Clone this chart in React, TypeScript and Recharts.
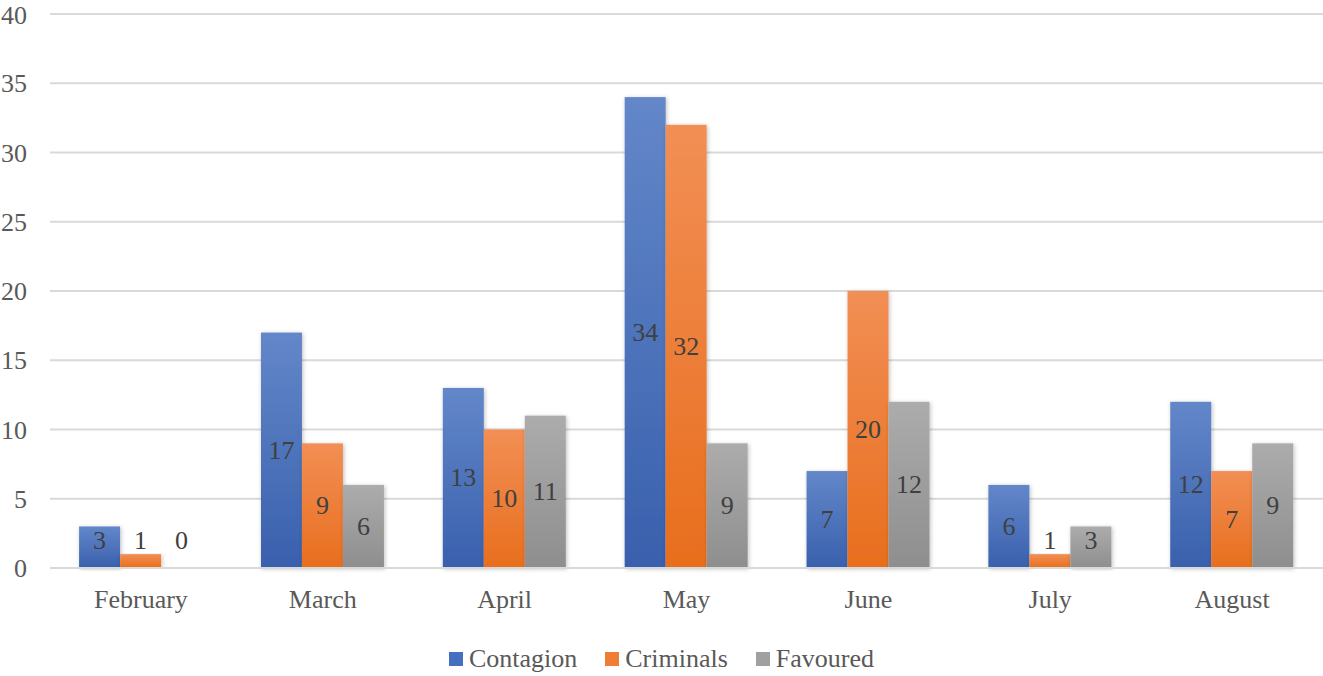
import { BarChart, Bar, XAxis, YAxis, CartesianGrid, Legend } from "recharts";

const months = ["February", "March", "April", "May", "June", "July", "August"];
const contagion = [3, 17, 13, 34, 7, 6, 12];
const criminals = [1, 9, 10, 32, 20, 1, 7];
const favoured = [0, 6, 11, 9, 12, 3, 9];
const yTicks = [0, 5, 10, 15, 20, 25, 30, 35, 40];

const data = months.map((m, i) => ({
  month: m,
  Contagion: contagion[i],
  Criminals: criminals[i],
  Favoured: favoured[i],
}));

const series = [
  { key: "Contagion", top: "#6387c9", bottom: "#3960ad", legend: "#4470bf" },
  { key: "Criminals", top: "#f28f55", bottom: "#e86e1d", legend: "#ee7d35" },
  { key: "Favoured", top: "#acacac", bottom: "#8e8e8e", legend: "#a0a0a0" },
];

const font = "Liberation Serif";
const fs = 26;

// bar plus a label in its middle (Excel "center"), kept clear of the axis
function BarWithLabel(props: any) {
  const { x, y, width, height, fill, value } = props;
  const v = Array.isArray(value) ? value[1] - value[0] : value;
  const zero = y + height;
  const cy = Math.min(y + height / 2, zero - 28);
  return (
    <g>
      {height > 0 && (
        <rect x={x} y={y} width={width} height={height} fill={fill} filter="url(#shadow)" />
      )}
      <text
        x={x + width / 2}
        y={cy}
        textAnchor="middle"
        dominantBaseline="central"
        fill="#404040"
        fontSize={fs}
        style={{ fontFamily: font }}
      >
        {v}
      </text>
    </g>
  );
}

function LegendBox() {
  return (
    <div
      style={{
        height: 50,
        display: "flex",
        justifyContent: "center",
        alignItems: "flex-start",
        paddingTop: 19,
        boxSizing: "border-box",
        fontFamily: font,
        fontSize: fs,
        color: "#595959",
        lineHeight: "28px",
      }}
    >
      {series.map((s) => (
        <div key={s.key} style={{ display: "flex", alignItems: "center", margin: "0 14px" }}>
          <span style={{ width: 14, height: 14, background: s.legend, display: "inline-block", marginRight: 6 }} />
          <span>{s.key}</span>
        </div>
      ))}
    </div>
  );
}

export default function App() {
  return (
    <div style={{ position: "absolute", left: 0, top: 0, background: "#fff", fontFamily: font }}>
      <BarChart
        width={1323}
        height={676}
        data={data}
        margin={{ top: 14, right: 0, bottom: 0, left: 0 }}
        barCategoryGap="16%"
        barGap={0}
        style={{ fontFamily: font }}
      >
        <defs>
          {series.map((s) => (
            <linearGradient key={s.key} id={`g-${s.key}`} x1="0" y1="0" x2="0" y2="1">
              <stop offset="0%" stopColor={s.top} />
              <stop offset="100%" stopColor={s.bottom} />
            </linearGradient>
          ))}
          <filter id="shadow" x="-20%" y="-5%" width="140%" height="110%">
            <feDropShadow dx="1" dy="1" stdDeviation="2" floodColor="#000" floodOpacity="0.25" />
          </filter>
        </defs>
        <CartesianGrid vertical={false} stroke="#d9d9d9" strokeWidth={2} />
        <XAxis
          dataKey="month"
          height={58}
          tickSize={0}
          tickMargin={22}
          axisLine={{ stroke: "#d9d9d9", strokeWidth: 2 }}
          tickLine={false}
          tick={{ fill: "#595959", fontSize: fs, fontFamily: font }}
        />
        <YAxis
          domain={[0, 40]}
          ticks={yTicks}
          width={50}
          tickSize={0}
          tickMargin={23}
          axisLine={false}
          tickLine={false}
          tick={{ fill: "#595959", fontSize: fs, fontFamily: font }}
        />
        <Legend content={<LegendBox />} verticalAlign="bottom" height={50} />
        {series.map((s) => (
          <Bar
            key={s.key}
            dataKey={s.key}
            fill={`url(#g-${s.key})`}
            shape={<BarWithLabel />}
            isAnimationActive={false}
          />
        ))}
      </BarChart>
    </div>
  );
}
